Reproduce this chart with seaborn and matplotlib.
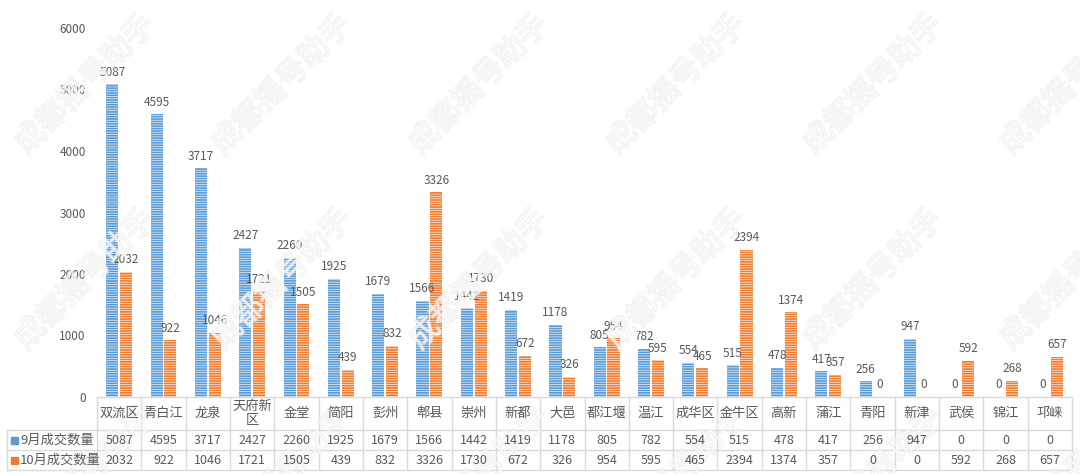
import pandas as pd
import matplotlib
matplotlib.use("Agg")
import matplotlib.pyplot as plt
import matplotlib.transforms as mtransforms
import matplotlib.patheffects as pe
from matplotlib.lines import Line2D
from matplotlib.patches import Rectangle
import seaborn as sns

# data
districts = ["双流区", "青白江", "龙泉", "天府新区", "金堂", "简阳", "彭州", "郫县", "崇州", "新都", "大邑",
             "都江堰", "温江", "成华区", "金牛区", "高新", "蒲江", "青阳", "新津", "武侯", "锦江", "邛崃"]
sep_counts = [5087, 4595, 3717, 2427, 2260, 1925, 1679, 1566, 1442, 1419, 1178,
              805, 782, 554, 515, 478, 417, 256, 947, 0, 0, 0]
oct_counts = [2032, 922, 1046, 1721, 1505, 439, 832, 3326, 1730, 672, 326,
              954, 595, 465, 2394, 1374, 357, 0, 0, 592, 268, 657]
series_names = ["9月成交数量", "10月成交数量"]
colors = ["#5b9bd5", "#ed7d31"]

sns.set_style("white")
plt.rcParams["font.family"] = ["Noto Sans CJK SC", "DejaVu Sans"]
plt.rcParams["hatch.color"] = "white"
plt.rcParams["hatch.linewidth"] = 0.45

W, H = 1080, 474
fig = plt.figure(figsize=(W / 100, H / 100), dpi=100)
left, right, top, bottom = 97, 1072, 28, 397
ax = fig.add_axes([left / W, 1 - bottom / H, (right - left) / W, (bottom - top) / H])
ax.patch.set_alpha(0)

df = pd.DataFrame({
    "district": districts * 2,
    "count": sep_counts + oct_counts,
    "month": [series_names[0]] * len(districts) + [series_names[1]] * len(districts),
})
sns.barplot(data=df, x="district", y="count", hue="month", order=districts,
            hue_order=series_names, palette=colors, width=0.62, gap=0.12,
            saturation=1, legend=False, ax=ax)

txt = "#595959"
for cont, vals in zip(ax.containers, [sep_counts, oct_counts]):
    for p in cont:
        p.set_hatch("-------")
        p.set_edgecolor("white")
        p.set_linewidth(0)
    ax.bar_label(cont, labels=[str(v) for v in vals], padding=4, fontsize=8.5, color=txt)

ax.set_ylim(0, 6000)
ax.set_xlim(-0.5, len(districts) - 0.5)
ax.set_yticks(range(0, 6001, 1000))
ax.tick_params(axis="y", length=0, labelsize=8.5, labelcolor=txt, pad=8)
ax.set_xticks([])
ax.set_xlabel("")
ax.set_ylabel("")
for s in ax.spines.values():
    s.set_visible(False)

# data table under the plot
def fy(py):
    return 1 - py / H

def fx(px):
    return px / W

tr = mtransforms.blended_transform_factory(ax.transData, fig.transFigure)
line_c = "#d9d9d9"
row_y = [397, 430, 450, 470]
n = len(districts)
fig.add_artist(Line2D([-0.5, n - 0.5], [fy(row_y[0])] * 2, transform=tr, color=line_c, lw=1))
for y in row_y[1:]:
    fig.add_artist(Line2D([fx(7), fx(right)], [fy(y)] * 2, color=line_c, lw=1))
for i in range(n + 1):
    fig.add_artist(Line2D([i - 0.5, i - 0.5], [fy(row_y[0]), fy(row_y[3])], transform=tr, color=line_c, lw=1))
fig.add_artist(Line2D([fx(7), fx(7)], [fy(row_y[1]), fy(row_y[3])], color=line_c, lw=1))

for i, name in enumerate(districts):
    label = name if len(name) <= 3 else name[:3] + "\n" + name[3:]
    fig.text(i, fy((row_y[0] + row_y[1]) / 2), label, transform=tr, ha="center", va="center",
             fontsize=9.5, color=txt, linespacing=1.1, zorder=4)
    fig.text(i, fy((row_y[1] + row_y[2]) / 2), str(sep_counts[i]), transform=tr,
             ha="center", va="center", fontsize=9, color=txt, zorder=4)
    fig.text(i, fy((row_y[2] + row_y[3]) / 2), str(oct_counts[i]), transform=tr,
             ha="center", va="center", fontsize=9, color=txt, zorder=4)

for k, (name, c) in enumerate(zip(series_names, colors)):
    yc = (row_y[1 + k] + row_y[2 + k]) / 2
    fig.add_artist(Rectangle((fx(11), fy(yc + 3.5)), 7 / W, 7 / H, color=c, transform=fig.transFigure))
    fig.text(fx(20), fy(yc), name, ha="left", va="center", fontsize=9.5, color=txt, zorder=4)

# faint watermarks, kept under the table text
for yc in [85, 280, 478]:
    for xc in [85, 282, 479, 676, 873, 1070]:
        fig.text(fx(xc), fy(yc), "成都摇号助手", rotation=45, ha="center", va="center",
                 fontsize=22, color="white", alpha=0.5, zorder=2,
                 path_effects=[pe.withStroke(linewidth=1.5, foreground="#e6e6e6")])

fig.savefig("out.png", dpi=100)
